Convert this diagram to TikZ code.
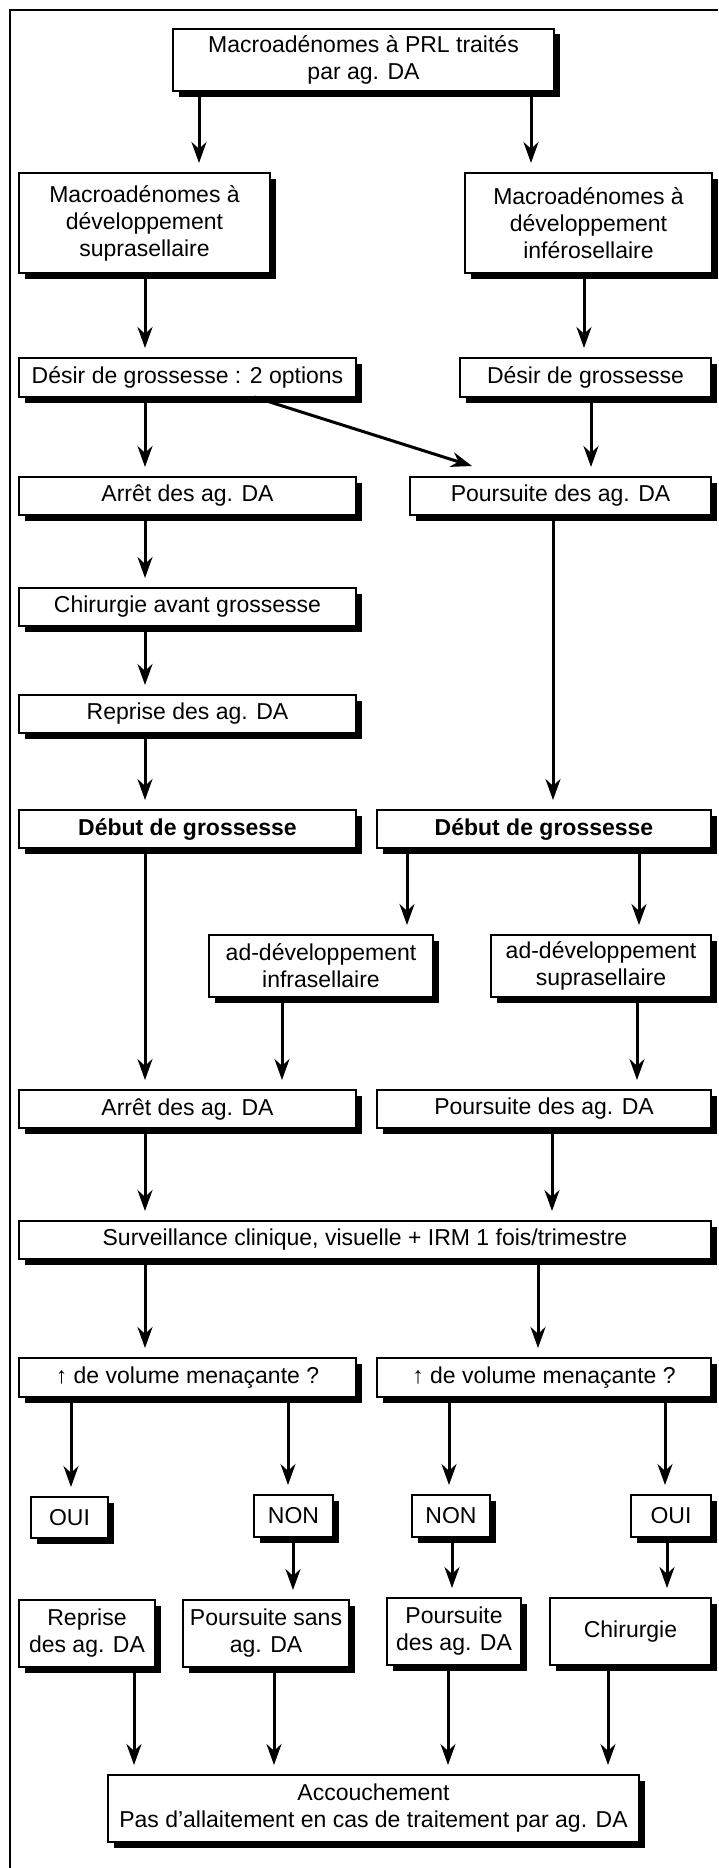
\documentclass[tikz,border=0pt]{standalone}
\usepackage{fontspec}
\setmainfont{Liberation Sans}
\usetikzlibrary{arrows.meta,shadows}
\newcommand\varrow[3]{\coordinate (vx) at (#3,0); \draw[arr] (#1.south -| vx) -- (#2.north -| vx);}
\begin{document}
\begin{tikzpicture}[x=1pt,y=-1pt,
  box/.style={draw=black, line width=1.9pt, fill=white, inner sep=2pt, outer sep=0pt,
    align=center, anchor=north west, font=\fontsize{23}{27}\selectfont,
    drop shadow={shadow xshift=5.5pt, shadow yshift=-5.5pt, fill=black, opacity=1}},
  arr/.style={line width=3pt, -{Stealth[length=21pt,width=15pt]}, shorten >=10pt},
  frameline/.style={line width=2pt}]
\useasboundingbox (0,0) rectangle (718,1868);
\draw[frameline] (718,10) -- (10,10) -- (10,1868);

\node[box, minimum width=381pt, minimum height=62pt] (top) at (173,29) {Macroadénomes à PRL traités\\par ag. DA};
\node[box, minimum width=251pt, minimum height=100pt] (supL) at (19,173) {Macroadénomes à\\développement\\suprasellaire};
\node[box, minimum width=247pt, minimum height=100pt] (infR) at (465,173) {Macroadénomes à\\développement\\inférosellaire};
\node[box, minimum width=337pt, minimum height=39pt] (desL) at (19,358) {Désir de grossesse : 2 options};
\node[box, minimum width=251pt, minimum height=39pt] (desR) at (460,358) {Désir de grossesse};
\node[box, minimum width=337pt, minimum height=38pt] (arr1) at (19,477) {Arrêt des ag. DA};
\node[box, minimum width=301pt, minimum height=38pt] (pou1) at (410,477) {Poursuite des ag. DA};
\node[box, minimum width=337pt, minimum height=38pt] (chir1) at (19,588) {Chirurgie avant grossesse};
\node[box, minimum width=337pt, minimum height=38pt] (rep1) at (19,695) {Reprise des ag. DA};
\node[box, minimum width=337pt, minimum height=38pt] (debL) at (19,810) {\bfseries Début de grossesse};
\node[box, minimum width=334pt, minimum height=38pt] (debR) at (377,810) {\bfseries Début de grossesse};
\node[box, minimum width=224pt, minimum height=62pt] (adInf) at (209,935) {ad-développement\\infrasellaire};
\node[box, minimum width=220pt, minimum height=62pt] (adSup) at (491,935) {ad-développement\\suprasellaire};
\node[box, minimum width=337pt, minimum height=38pt] (arr2) at (19,1090) {Arrêt des ag. DA};
\node[box, minimum width=334pt, minimum height=38pt] (pou2) at (377,1090) {Poursuite des ag. DA};
\node[box, minimum width=692pt, minimum height=38pt] (surv) at (19,1221) {Surveillance clinique, visuelle + IRM 1 fois/trimestre};
\node[box, minimum width=337pt, minimum height=39pt] (volL) at (19,1358) {↑ de volume menaçante ?};
\node[box, minimum width=334pt, minimum height=39pt] (volR) at (377,1358) {↑ de volume menaçante ?};
\node[box, minimum width=77pt, minimum height=41pt] (ouiL) at (31,1497) {OUI};
\node[box, minimum width=79pt, minimum height=42pt] (nonL) at (254,1495) {NON};
\node[box, minimum width=78pt, minimum height=42pt] (nonR) at (412,1495) {NON};
\node[box, minimum width=80pt, minimum height=42pt] (ouiR) at (631,1495) {OUI};
\node[box, minimum width=136pt, minimum height=67pt] (b1) at (19,1600) {Reprise\\des ag. DA};
\node[box, minimum width=166pt, minimum height=67pt] (b2) at (183,1600) {Poursuite sans\\ag. DA};
\node[box, minimum width=134pt, minimum height=67pt] (b3) at (387,1598) {Poursuite\\des ag. DA};
\node[box, minimum width=161pt, minimum height=67pt] (b4) at (550,1598) {Chirurgie};
\node[box, minimum width=531pt, minimum height=67pt] (acc) at (108,1775) {Accouchement\\Pas d’allaitement en cas de traitement par ag. DA};

\varrow{top}{supL}{199}
\varrow{top}{infR}{531}
\varrow{supL}{desL}{145}
\varrow{infR}{desR}{584}
\varrow{desL}{arr1}{145}
\coordinate (dgS) at (254,0);
\coordinate (dgE) at (472,466);
\draw[arr, shorten >=0pt] (desL.south -| dgS) -- (dgE);
\varrow{desR}{pou1}{591}
\varrow{arr1}{chir1}{145}
\varrow{chir1}{rep1}{145}
\varrow{rep1}{debL}{145}
\varrow{pou1}{debR}{553}
\varrow{debL}{arr2}{145}
\varrow{debR}{adInf}{407}
\varrow{debR}{adSup}{639}
\varrow{adInf}{arr2}{282}
\varrow{adSup}{pou2}{637}
\varrow{arr2}{surv}{145}
\varrow{pou2}{surv}{552}
\varrow{surv}{volL}{145}
\varrow{surv}{volR}{538}
\varrow{volL}{ouiL}{71}
\varrow{volL}{nonL}{288}
\varrow{volR}{nonR}{449}
\varrow{volR}{ouiR}{665}
\varrow{nonL}{b2}{293}
\varrow{nonR}{b3}{452}
\varrow{ouiR}{b4}{667}
\varrow{b1}{acc}{134}
\varrow{b2}{acc}{274}
\varrow{b3}{acc}{448}
\varrow{b4}{acc}{608}
\end{tikzpicture}
\end{document}
